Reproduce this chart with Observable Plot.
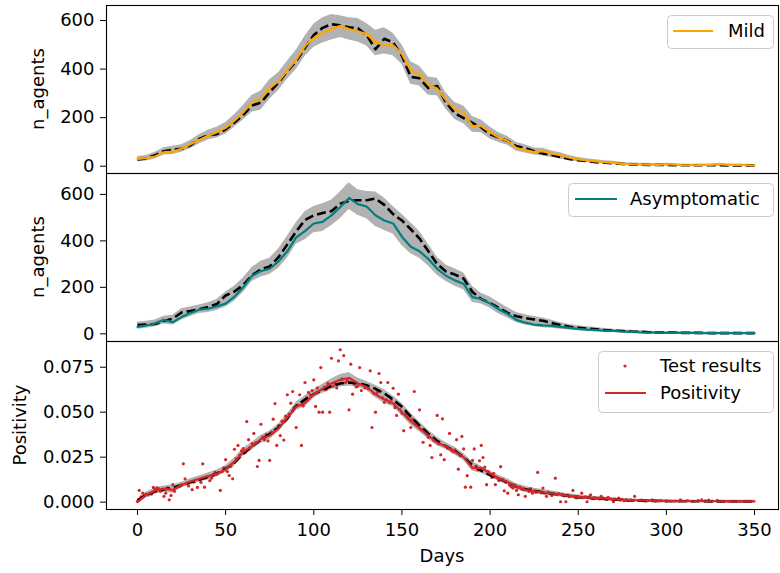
<!DOCTYPE html>
<html><head><meta charset="utf-8">
<script src="https://cdn.jsdelivr.net/npm/d3@7"></script>
<script src="https://cdn.jsdelivr.net/npm/@observablehq/plot@0.6"></script>
<style>
body{margin:0;background:#fff;}
#wrap{position:relative;width:780px;height:573px;font-family:"DejaVu Sans",sans-serif;}
#wrap svg{position:absolute;left:0;top:0;}
</style></head><body><div id="wrap"></div>
<script>
const days = [0,5,10,15,20,25,30,35,40,45,50,55,60,65,70,75,80,85,90,95,100,105,110,115,120,125,130,135,140,145,150,155,160,165,170,175,180,185,190,195,200,205,210,215,220,225,230,235,240,245,250,255,260,265,270,275,280,285,290,295,300,305,310,315,320,325,330,335,340,345,350];
const xTicks = [0,50,100,150,200,250,300,350];
const agentTicks = [0,200,400,600];
const posTicks = [0,0.025,0.05,0.075];

const mildLine = [30,33,40,58,60,72,90,108,125,140, 158,188,222,262,278,322,350,395,438,495, 528,550,565,578,565,555,545,510,500,498, 462,395,378,335,320,272,235,220,165,165, 140,118,104,75,66,58,62,52,45,35, 28,24,20,17,14,10,8,7,6,5, 8,6,4,4,5,5,8,5,5,4, 3];
const mildDash = [28,32,45,62,68,72,86,112,128,132, 152,180,212,250,262,305,345,392,432,488, 540,570,585,580,572,568,540,482,525,510, 455,368,362,322,330,262,218,198,178,160, 132,118,104,82,74,62,52,46,38,30, 25,21,17,14,12,9,7,6,5,5, 5,4,4,4,4,4,4,3,3,3, 3];
const mildHi = [40,44,58,76,82,88,106,130,148,160, 180,212,250,292,310,356,385,432,478,535, 585,612,625,620,612,608,588,560,570,548, 500,430,412,368,362,302,262,248,205,190, 162,138,122,98,88,75,74,63,55,44, 36,31,27,23,20,15,13,12,11,10, 12,10,8,8,9,9,12,9,9,8, 7];
const mildLo = [18,22,30,46,48,58,72,92,108,116, 132,160,190,222,232,276,312,358,398,452, 490,508,520,530,520,512,495,455,462,455, 420,338,330,292,290,235,192,175,140,138, 112,98,86,62,54,46,42,36,30,22, 18,15,12,9,7,5,3,2,1,1, 1,0,0,0,0,0,1,0,0,0, 0];

const asymLine = [30,36,45,60,50,72,90,104,108,118, 130,160,200,250,270,280,312,355,415,442, 475,482,510,545,585,558,548,510,488,475, 418,375,355,322,280,250,230,215,158,150, 130,105,85,60,48,40,36,34,30,26, 21,18,16,14,13,10,8,6,5,5, 4,4,4,4,3,3,3,3,3,3, 3];
const asymDash = [38,40,42,55,65,92,98,106,115,128, 165,182,210,252,278,290,330,385,440,490, 510,520,528,560,572,575,575,582,555,515, 488,450,410,355,300,268,255,238,180,150, 132,112,90,76,68,62,56,46,38,30, 26,22,20,16,14,12,10,9,7,6, 5,5,4,4,4,3,3,3,3,3, 3];
const asymHi = [50,54,60,76,80,108,115,124,134,148, 180,205,240,285,312,325,365,420,478,525, 548,560,575,610,650,620,612,610,585,548, 515,478,440,385,330,296,280,262,205,175, 158,135,112,92,82,75,68,58,48,40, 35,30,27,23,20,17,15,13,11,10, 9,8,8,8,7,7,7,7,7,7, 7];
const asymLo = [20,24,30,42,38,60,75,88,92,100, 115,140,178,225,245,255,282,325,385,405, 435,440,465,495,535,510,495,462,445,430, 380,345,325,292,252,225,205,190,135,128, 110,85,68,48,38,30,26,24,20,17, 13,11,9,7,6,4,3,2,1,1, 0,0,0,0,0,0,0,0,0,0, 0];

const posLine = [0.0000,0.0040,0.0065,0.0075,0.0068,0.0095,0.0115,0.0130,0.0145,0.0158, 0.0182,0.0225,0.0280,0.0310,0.0350,0.0370,0.0410,0.0470,0.0530,0.0550, 0.0600,0.0630,0.0660,0.0680,0.0690,0.0660,0.0640,0.0600,0.0570,0.0550, 0.0500,0.0450,0.0410,0.0370,0.0330,0.0310,0.0280,0.0250,0.0190,0.0190, 0.0160,0.0130,0.0112,0.0085,0.0068,0.0060,0.0055,0.0048,0.0041,0.0035, 0.0029,0.0025,0.0022,0.0019,0.0017,0.0013,0.0011,0.0009,0.0008,0.0007, 0.0006,0.0006,0.0005,0.0005,0.0005,0.0005,0.0005,0.0004,0.0004,0.0004, 0.0004];
const posDash = [0.0010,0.0040,0.0060,0.0070,0.0080,0.0095,0.0110,0.0125,0.0140,0.0160, 0.0185,0.0220,0.0270,0.0310,0.0345,0.0380,0.0415,0.0465,0.0535,0.0570, 0.0600,0.0625,0.0645,0.0660,0.0665,0.0660,0.0650,0.0630,0.0605,0.0570, 0.0530,0.0475,0.0425,0.0380,0.0340,0.0310,0.0285,0.0250,0.0205,0.0175, 0.0150,0.0130,0.0110,0.0085,0.0072,0.0062,0.0055,0.0048,0.0041,0.0034, 0.0028,0.0024,0.0020,0.0017,0.0015,0.0012,0.0010,0.0008,0.0007,0.0006, 0.0006,0.0005,0.0005,0.0005,0.0005,0.0004,0.0004,0.0004,0.0004,0.0004, 0.0004];
const posHi = [0.0015,0.0055,0.0080,0.0090,0.0095,0.0110,0.0130,0.0145,0.0162,0.0178, 0.0202,0.0245,0.0300,0.0332,0.0370,0.0395,0.0435,0.0490,0.0555,0.0592, 0.0625,0.0655,0.0685,0.0710,0.0720,0.0690,0.0670,0.0650,0.0625,0.0590, 0.0550,0.0495,0.0445,0.0400,0.0360,0.0330,0.0305,0.0270,0.0225,0.0200, 0.0172,0.0150,0.0128,0.0102,0.0088,0.0077,0.0070,0.0062,0.0054,0.0046, 0.0040,0.0035,0.0031,0.0027,0.0024,0.0020,0.0018,0.0016,0.0015,0.0014, 0.0013,0.0012,0.0012,0.0011,0.0011,0.0011,0.0011,0.0010,0.0010,0.0010, 0.0010];
const posLo = [0.0000,0.0025,0.0045,0.0055,0.0050,0.0078,0.0095,0.0110,0.0125,0.0140, 0.0165,0.0200,0.0255,0.0290,0.0328,0.0350,0.0390,0.0445,0.0510,0.0530, 0.0578,0.0605,0.0625,0.0640,0.0645,0.0640,0.0620,0.0580,0.0550,0.0530, 0.0480,0.0428,0.0390,0.0350,0.0312,0.0292,0.0262,0.0232,0.0172,0.0160, 0.0138,0.0115,0.0095,0.0070,0.0055,0.0046,0.0040,0.0034,0.0028,0.0022, 0.0017,0.0014,0.0011,0.0009,0.0007,0.0005,0.0004,0.0003,0.0002,0.0002, 0.0001,0.0001,0.0001,0.0001,0.0001,0.0000,0.0000,0.0000,0.0000,0.0000, 0.0000];

const testResults = [[0,0.0005],[1,0.0065],[2,0.003],[3,0.005],[4,0.0037],[5,0.0045],[6,0.004],[7,0.0048],[8,0.0045],[9,0.0082],[10,0.007],[11,0.008],[12,0.0075],[13,0.006],[15,0.0032],[16,0.005],[17,0.008],[18,0.0013],[19,0.0037],[20,0.0097],[21,0.006],[22,0.008],[24,0.0088],[26,0.0213],[27,0.013],[28,0.0105],[29,0.009],[31,0.0069],[32,0.0112],[34,0.0082],[35,0.0125],[36,0.011],[37,0.0213],[38,0.0083],[39,0.0135],[40,0.0142],[41,0.012],[42,0.0133],[43,0.015],[44,0.0165],[45,0.0155],[47,0.0065],[48,0.017],[49,0.019],[50,0.0236],[51,0.017],[52,0.0148],[53,0.02],[54,0.013],[55,0.0294],[56,0.024],[57,0.0315],[58,0.0262],
[59,0.0285],[60,0.0298],[61,0.0275],[62,0.0448],[63,0.0347],[64,0.0305],[65,0.0325],[66,0.0382],[67,0.033],[68,0.0198],[69,0.0232],[70,0.0433],[71,0.0361],[72,0.0345],[73,0.0375],[74,0.034],[75,0.0232],[76,0.039],[77,0.0461],[78,0.0548],[79,0.0315],[80,0.0425],[81,0.037],[82,0.045],[83,0.0345],[84,0.0478],[85,0.0597],[86,0.049],[87,0.055],[88,0.0615],[89,0.0525],[90,0.0415],[91,0.054],[92,0.0597],[93,0.0315],[94,0.0535],[95,0.0665],[96,0.058],[97,0.061],[98,0.0595],[99,0.062],[100,0.068],[101,0.0532],[102,0.0635],[103,0.05],[104,0.0748],[105,0.05],[106,0.064],[107,0.0625],[108,0.066],[109,0.05],[110,0.08],[111,0.0645],[112,0.066],[113,0.0635],[114,0.0785],[115,0.0847],[116,0.0685],[117,0.0815],[118,0.0665],[119,0.0675],[120,0.0513],[121,0.0767],[122,0.06],[123,0.0655],[124,0.064],[125,0.0645],[126,0.0748],[127,0.062],[128,0.0655],[129,0.0635],[130,0.064],[131,0.063],[132,0.073],[133,0.0415],[134,0.0605],[135,0.05],[136,0.061],[137,0.0715],[138,0.0665],[139,0.058],[140,0.0555],[141,0.057],[142,0.0665],[143,0.0555],[144,0.057],[145,0.0633],[146,0.0525],[147,0.0482],[148,0.06],[149,0.0515],[150,0.0495],[151,0.0397],[152,0.049],[153,0.0475],[154,0.0465],[155,0.0415],[156,0.046],[157,0.0615],[158,0.0445],[159,0.043],[160,0.0513],[161,0.0405],[162,0.0333],[163,0.04],[164,0.038],[165,0.036],[166,0.0315],[167,0.0248],[168,0.0345],[169,0.034],[170,0.0482],[171,0.0325],[172,0.0263],[173,0.0463],[174,0.0236],[175,0.031],[176,0.03],[177,0.0382],[178,0.029],[179,0.028],[180,0.029],[181,0.0347],[182,0.0183],[183,0.026],[184,0.0365],[185,0.0296],[186,0.0083],[187,0.0147],[188,0.022],[189,0.0083],[190,0.0232],[191,0.0296],[192,0.02],[193,0.018],[194,0.023],[195,0.0315],[196,0.0248],[197,0.0195],[198,0.0097],[199,0.017],[200,0.0155],[201,0.0137],[202,0.016],[203,0.0097],[204,0.0135],[205,0.012],[206,0.0197],[207,0.0125],[208,0.0063],[209,0.011],[210,0.005],[211,0.0095],[212,0.0085],[213,0.0078],[214,0.0095],[215,0.0065],[216,0.0041],[217,0.0083],[218,0.0072],[219,0.007],[220,0.0032],[221,0.0068],[222,0.006],[223,0.0075],[224,0.005],[225,0.0062],[226,0.0055],[227,0.0165],[228,0.0058],[229,0.0052],[230,0.0078],[231,0.005],[232,0.0032],[233,0.0055],[234,0.0048],[235,0.0037],[236,0.0045],[237,0.0133],[238,0.0042],[239,0.0048],[240,0.0002],[241,0.004],[242,0.0035],[243,0.0002],[244,0.0038],[245,0.003],[246,0.0034],[247,0.0065],[248,0.0028],[249,0.0023],[250,0.0031],[251,0.0027],[252,0.005],[253,0.0025],[254,0.003],[255,0.0002],[256,0.0028],[257,0.0041],[258,0.002],[259,0.0025],[260,0.0023],[261,0.0021],[262,0.0018],[263,0.0032],[264,0.0022],[265,0.0019],[266,0.0015],[267,0.0027],[268,0.0018],[269,0.0016],[270,0.0002],[271,0.0017],[272,0.0014],[273,0.0023],[274,0.0012],[275,0.0015],[276,0.0008],[277,0.0013],[278,0.001],[280,0.0012],[282,0.0032],[284,0.0009],[286,0.0011],[288,0.0007],[290,0.0009],[292,0.0012],[294,0.0006],[297,0.0008],[300,0.0005],[305,0.0006],[308,0.0012],[312,0.0008],[315,0.0005],[318,0.0009],[320,0.0012],[322,0.0007],[324,0.0011],[326,0.0006],[329,0.001],[335,0.0005],[342,0.0004],[348,0.0004]];

const W = 780, H = 573;
const FONT = "DejaVu Sans";
const FS = 18;

function rows(line, dash, lo, hi) {
  return days.map((d, i) => ({day: d, line: line[i], dash: dash[i], lo: lo[i], hi: hi[i]}));
}

function panel({top, bottom, yDomain, yTicks, yFormat, color, data, extra = [], xAxis}) {
  return Plot.plot({
    width: W, height: H,
    marginLeft: 106, marginRight: 2, marginTop: top, marginBottom: H - bottom,
    style: {background: "transparent", fontFamily: FONT, fontSize: FS + "px", color: "black", overflow: "visible"},
    x: xAxis ? {domain: [-17.58, 363.6], ticks: xTicks, tickSize: 6, tickPadding: 8, label: null}
             : {domain: [-17.58, 363.6], axis: null},
    y: {domain: yDomain, ticks: yTicks, tickFormat: yFormat, tickSize: 6, tickPadding: 6, label: null},
    marks: [
      Plot.areaY(data, {x: "day", y1: "lo", y2: "hi", fill: "#b2b2b2", clip: true}),
      ...extra,
      Plot.lineY(data, {x: "day", y: "dash", stroke: "black", strokeWidth: 2.6, strokeDasharray: "9,4", strokeLinecap: "butt", clip: true}),
      Plot.lineY(data, {x: "day", y: "line", stroke: color, strokeWidth: 2.2, clip: true}),
      Plot.frame({stroke: "black", strokeWidth: 1.1})
    ]
  });
}

const wrap = document.getElementById("wrap");
wrap.appendChild(panel({top: 5, bottom: 173, yDomain: [-30, 662], yTicks: agentTicks, yFormat: d3.format("d"),
  color: "orange", data: rows(mildLine, mildDash, mildLo, mildHi)}));
wrap.appendChild(panel({top: 173, bottom: 341, yDomain: [-33, 690], yTicks: agentTicks, yFormat: d3.format("d"),
  color: "teal", data: rows(asymLine, asymDash, asymLo, asymHi)}));
wrap.appendChild(panel({top: 341, bottom: 509, yDomain: [-0.0041, 0.0893], yTicks: posTicks, yFormat: d3.format(".3f"),
  color: "#d62728", data: rows(posLine, posDash, posLo, posHi), xAxis: true,
  extra: [Plot.dot(testResults, {x: d => d[0], y: d => d[1], r: 1.6, fill: "#d62728", stroke: null, clip: true})]}));

// overlay: axis titles and legends
const svg = d3.select(wrap).append("svg").attr("width", W).attr("height", H)
  .style("font-family", FONT).style("font-size", FS + "px");
function ylabel(text, x, y) {
  svg.append("text").attr("transform", `translate(${x},${y}) rotate(-90)`)
    .attr("text-anchor", "middle").text(text);
}
ylabel("n_agents", 44, 89);
ylabel("n_agents", 44, 257);
ylabel("Positivity", 26, 425);
svg.append("text").attr("x", 442).attr("y", 562).attr("text-anchor", "middle").text("Days");

function legendBox(x, y, w, h) {
  svg.append("rect").attr("x", x + 0.5).attr("y", y + 0.5).attr("width", w).attr("height", h)
    .attr("rx", 4).attr("fill", "white").attr("fill-opacity", 0.8).attr("stroke", "#cccccc");
}
function legendLine(x1, x2, y, color, label, tx) {
  svg.append("line").attr("x1", x1).attr("x2", x2).attr("y1", y).attr("y2", y)
    .attr("stroke", color).attr("stroke-width", 2.2);
  svg.append("text").attr("x", tx).attr("y", y).attr("dy", "0.35em").text(label);
}
legendBox(667, 15, 106, 33);
legendLine(673, 713, 31, "orange", "Mild", 728);
legendBox(568, 183, 205, 33);
legendLine(575, 617, 199, "teal", "Asymptomatic", 630);
legendBox(598, 351, 175, 61);
svg.append("circle").attr("cx", 625).attr("cy", 366).attr("r", 1.6).attr("fill", "#d62728");
svg.append("text").attr("x", 660).attr("y", 366).attr("dy", "0.35em").text("Test results");
legendLine(605, 646, 393, "#d62728", "Positivity", 660);
</script></body></html>
